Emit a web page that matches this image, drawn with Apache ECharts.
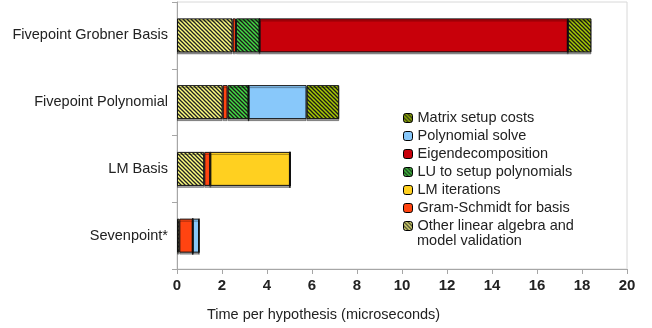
<!DOCTYPE html>
<html>
<head>
<meta charset="utf-8">
<script src="https://cdn.jsdelivr.net/npm/echarts@6/dist/echarts.min.js"></script>
<style>html,body{margin:0;padding:0;background:#fff}#c{width:652px;height:328px}</style>
</head>
<body>
<div id="c"></div>
<script>
var categories = ['Fivepoint Grobner Basis', 'Fivepoint Polynomial', 'LM Basis', 'Sevenpoint*'];
var otherLinAlg = [2.47, 2.03, 1.21, 0.10];
var gramSchmidt = [0.15, 0.22, 0.27, 0.60];
var luSetup = [1.05, 0.93, 0, 0];
var lmIterations = [0, 0, 3.54, 0];
var eigendecomp = [13.7, 0, 0, 0];
var polySolve = [0, 2.58, 0, 0.28];
var matrixSetup = [1.05, 1.45, 0, 0];
var xTicks = [0, 2, 4, 6, 8, 10, 12, 14, 16, 18, 20];
var OTHER = 'Other linear algebra and model validation';

function stripe(bg, fg) {
  var c = document.createElement('canvas');
  c.width = 4; c.height = 4;
  var ctx = c.getContext('2d');
  ctx.fillStyle = bg; ctx.fillRect(0, 0, 4, 4);
  ctx.strokeStyle = fg; ctx.lineWidth = 1.3;
  for (var k = -1; k <= 1; k++) {
    ctx.beginPath();
    ctx.moveTo(-1 + k * 4, -1);
    ctx.lineTo(5 + k * 4, 5);
    ctx.stroke();
  }
  return { image: c, repeat: 'repeat' };
}

var seriesDefs = [
  { name: OTHER, data: otherLinAlg, color: stripe('#ffff80', '#222') },
  { name: 'Gram-Schmidt for basis', data: gramSchmidt, color: '#ff4411' },
  { name: 'LU to setup polynomials', data: luSetup, color: stripe('#44dd44', '#1a1a1a') },
  { name: 'LM iterations', data: lmIterations, color: '#ffd020' },
  { name: 'Eigendecomposition', data: eigendecomp, color: '#c8000a' },
  { name: 'Polynomial solve', data: polySolve, color: '#88c8fa' },
  { name: 'Matrix setup costs', data: matrixSetup, color: stripe('#aacc00', '#1a1a1a') }
];

var FF = 'Liberation Sans, Arial, sans-serif';
var chart = echarts.init(document.getElementById('c'), null, { renderer: 'canvas' });
chart.setOption({
  animation: false,
  textStyle: { fontFamily: FF },
  title: {
    text: 'Time per hypothesis (microseconds)',
    left: 202, top: 302,
    textStyle: { fontSize: 14.5, fontWeight: 'normal', color: '#222', fontFamily: FF }
  },
  graphic: [{
    type: 'text', left: 417, top: 233,
    style: { text: 'model validation', fontSize: 14.5, fill: '#222', fontFamily: FF }
  }],
  grid: { left: 177, right: 25, top: 2, bottom: 59, show: true, borderColor: '#d8d8d8', borderWidth: 1, containLabel: false },
  legend: {
    orient: 'vertical', left: 403, top: 110, padding: 0,
    itemWidth: 9, itemHeight: 9, itemGap: 2,
    data: ['Matrix setup costs', 'Polynomial solve', 'Eigendecomposition', 'LU to setup polynomials', 'LM iterations', 'Gram-Schmidt for basis', OTHER],
    formatter: function (n) { return n === OTHER ? 'Other linear algebra and' : n; },
    itemStyle: { borderColor: '#000', borderWidth: 1 },
    textStyle: { fontSize: 14.5, color: '#222', lineHeight: 16, fontFamily: FF }
  },
  xAxis: {
    type: 'value', min: 0, max: 20, interval: 2,
    axisLine: { show: true, lineStyle: { color: '#a6a6a6' } },
    axisTick: { show: true, length: 5, lineStyle: { color: '#a6a6a6' } },
    splitLine: { show: false },
    axisLabel: { fontSize: 15, fontWeight: 'bold', color: '#222', margin: 9,
      formatter: function (v) { return xTicks.indexOf(v) >= 0 ? String(v) : ''; } }
  },
  yAxis: {
    type: 'category', data: categories, inverse: true,
    axisLine: { show: true, lineStyle: { color: '#a6a6a6' } },
    axisTick: { show: true, length: 5, lineStyle: { color: '#a6a6a6' } },
    axisLabel: { fontSize: 14.5, color: '#222', margin: 9 }
  },
  series: seriesDefs.map(function (s) {
    return {
      name: s.name, type: 'bar', stack: 'total', data: s.data, barWidth: 34,
      itemStyle: { color: s.color, borderColor: '#111', borderWidth: 1,
        shadowColor: 'rgba(0,0,0,0.35)', shadowOffsetY: 2, shadowBlur: 0 }
    };
  })
});
</script>
</body>
</html>
